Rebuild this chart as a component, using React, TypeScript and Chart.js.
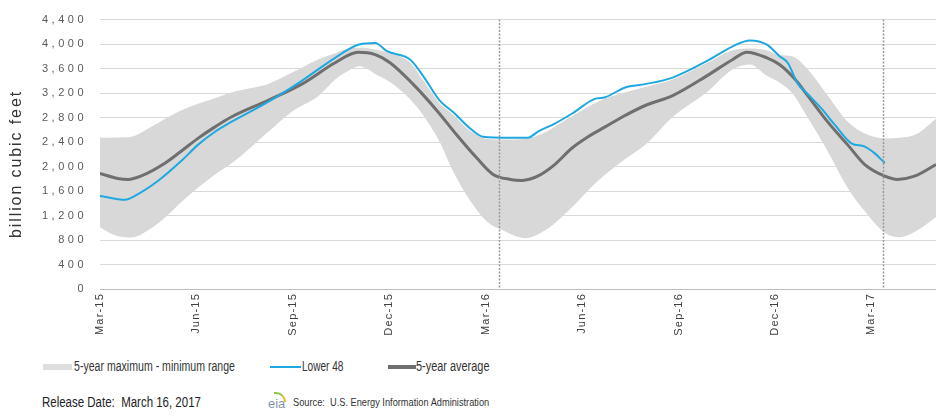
import React, { useEffect, useRef } from "react";
import { Chart, registerables } from "chart.js";

Chart.register(...registerables);

// ---- data (x = weeks since first weekly report, early March 2015) ----
const xTickWeeks = [0, 13, 26, 39, 52, 65, 78, 91, 104];
const xTickLabels = ["Mar-15", "Jun-15", "Sep-15", "Dec-15", "Mar-16", "Jun-16", "Sep-16", "Dec-16", "Mar-17"];
const yTickValues = [0, 400, 800, 1200, 1600, 2000, 2400, 2800, 3200, 3600, 4000, 4400];
const yTitle = "billion cubic feet";
const seriesNames = ["5-year maximum - minimum range", "Lower 48", "5-year average"];

const lower48Weeks = [0, 3.4, 4.7, 7.8, 10.9, 13.2, 15.5, 17.7, 22.6, 27.2, 31.7, 34.8, 37.1, 38.7, 41.8, 43.5, 45.8, 47.6, 49.9, 51.6, 55.3, 57.7, 59.0, 61.3, 63.6, 66.7, 68.1, 70.8, 73.5, 77.2, 81.8, 85.3, 87.6, 89.9, 91.6, 92.7, 94.1, 95.4, 97.3, 99.1, 101.3, 103.1, 104.4, 105.8];
const lower48Values = [1521, 1457, 1521, 1763, 2085, 2354, 2568, 2729, 3051, 3400, 3776, 3990, 4017, 3884, 3749, 3490, 3078, 2890, 2621, 2487, 2471, 2471, 2568, 2701, 2862, 3105, 3132, 3292, 3346, 3453, 3722, 3964, 4060, 3990, 3803, 3695, 3346, 3185, 2943, 2676, 2380, 2326, 2219, 2058];

const avgWeeks = [0, 2.4, 3.8, 5.5, 8.8, 10.9, 13.2, 15.5, 17.7, 22.6, 27.2, 31.7, 34.8, 37.1, 39.1, 42.2, 45.4, 48.1, 50.8, 53.0, 55.3, 56.9, 59.0, 61.3, 63.6, 65.8, 68.1, 70.4, 73.5, 77.2, 81.8, 85.3, 87.2, 89.9, 91.6, 93.7, 95.4, 98.1, 100.8, 103.1, 105.8, 107.5, 109.8, 112.7];
const avgValues = [1887, 1806, 1790, 1843, 2058, 2246, 2460, 2648, 2809, 3078, 3346, 3695, 3867, 3829, 3695, 3346, 2917, 2515, 2138, 1871, 1790, 1774, 1843, 2032, 2299, 2487, 2648, 2809, 2997, 3159, 3481, 3749, 3867, 3776, 3668, 3426, 3159, 2729, 2354, 2032, 1843, 1790, 1843, 2032];

const bandWeeks = [0, 2.0, 4.2, 6.5, 8.8, 10.9, 13.2, 15.5, 17.7, 20.2, 22.6, 25.9, 29.4, 31.7, 33.0, 35.0, 36.4, 37.1, 39.1, 41.8, 43.5, 45.8, 47.6, 49.9, 52.2, 54.3, 57.3, 60.0, 63.6, 67.1, 70.4, 73.5, 77.2, 81.8, 85.3, 87.6, 89.9, 91.6, 93.3, 95.4, 98.1, 100.8, 103.1, 105.8, 107.8, 110.1, 112.7];
const bandMax = [2470, 2475, 2487, 2620, 2780, 2915, 3025, 3115, 3210, 3280, 3346, 3534, 3750, 3850, 3910, 3940, 3930, 3910, 3850, 3700, 3420, 3030, 2850, 2580, 2450, 2440, 2450, 2560, 2820, 3060, 3200, 3300, 3420, 3690, 3900, 3930, 3900, 3820, 3800, 3590, 3160, 2730, 2540, 2460, 2470, 2530, 2780];
const bandMin = [1010, 877, 840, 958, 1172, 1414, 1655, 1871, 2050, 2300, 2560, 2900, 3150, 3420, 3530, 3640, 3570, 3510, 3380, 3100, 2850, 2402, 1924, 1441, 1100, 958, 830, 958, 1333, 1763, 2085, 2354, 2809, 3212, 3588, 3668, 3481, 3373, 3200, 2800, 2250, 1650, 1270, 920, 845, 950, 1170];

const markerWeeks = [53.8, 105.5];
const xMax = 112.7;

const SANS = '"Liberation Sans", Arial, sans-serif';

const BLUE = "#1fa8e0";
const AVG = "#6f6f6f";
const BAND = "#d8d8d8";

const pts = (xs: number[], ys: number[]) => xs.map((x, i) => ({ x, y: ys[i] }));

export default function App() {
  const ref = useRef<HTMLCanvasElement>(null);

  useEffect(() => {
    const canvas = ref.current;
    if (!canvas) return;

    const patch = (scale: any, spacing: string) => {
      if (!scale || scale.__spaced) return;
      const orig = scale.drawLabels.bind(scale);
      scale.drawLabels = (area: any) => {
        const ctx = scale.ctx;
        ctx.save();
        ctx.letterSpacing = spacing;
        orig(area);
        ctx.restore();
      };
      scale.__spaced = true;
    };

    const extras = {
      id: "extras",
      beforeDraw(chart: any) {
        patch(chart.scales.y, "3.5px");
        patch(chart.scales.x, "1.2px");
      },
      afterDatasetsDraw(chart: any) {
        const { ctx, chartArea, scales } = chart;
        ctx.save();
        ctx.strokeStyle = "#9a9a9a";
        ctx.lineWidth = 1.5;
        ctx.setLineDash([2, 1.5]);
        markerWeeks.forEach((w) => {
          const x = Math.round(scales.x.getPixelForValue(w)) + 0.5;
          ctx.beginPath();
          ctx.moveTo(x, chartArea.top);
          ctx.lineTo(x, chartArea.bottom);
          ctx.stroke();
        });
        ctx.restore();
      },
      afterDraw(chart: any) {
        const ctx = chart.ctx;
        ctx.save();
        ctx.translate(17, 164);
        ctx.rotate(-Math.PI / 2);
        ctx.font = `16px ${SANS}`;
        ctx.letterSpacing = "1.9px";
        ctx.fillStyle = "#333333";
        ctx.textAlign = "center";
        ctx.textBaseline = "middle";
        ctx.fillText(yTitle, 0, 0);
        ctx.restore();
      },
    };

    const chart = new Chart(canvas, {
      type: "line",
      data: {
        datasets: [
          {
            label: seriesNames[1],
            data: pts(lower48Weeks, lower48Values),
            borderColor: BLUE,
            borderWidth: 2,
            pointRadius: 0,
            fill: false,
            cubicInterpolationMode: "monotone",
          },
          {
            label: seriesNames[2],
            data: pts(avgWeeks, avgValues),
            borderColor: AVG,
            borderWidth: 3,
            pointRadius: 0,
            fill: false,
            cubicInterpolationMode: "monotone",
          },
          {
            label: seriesNames[0],
            data: pts(bandWeeks, bandMax),
            borderColor: BAND,
            borderWidth: 0,
            backgroundColor: BAND,
            pointRadius: 0,
            fill: "+1",
            cubicInterpolationMode: "monotone",
          },
          {
            label: seriesNames[0] + " min",
            data: pts(bandWeeks, bandMin),
            borderColor: BAND,
            borderWidth: 0,
            pointRadius: 0,
            fill: false,
            cubicInterpolationMode: "monotone",
          },
        ],
      },
      options: {
        responsive: false,
        animation: false,
        devicePixelRatio: 1,
        layout: { padding: { top: 16, left: 0, right: 0, bottom: 0 } },
        plugins: { legend: { display: false }, tooltip: { enabled: false } },
        scales: {
          x: {
            type: "linear",
            min: 0,
            max: xMax,
            afterBuildTicks: (scale: any) => {
              scale.ticks = xTickWeeks.map((v) => ({ value: v }));
            },
            afterFit: (scale: any) => {
              scale.height = 56;
            },
            ticks: {
              autoSkip: false,
              maxRotation: 90,
              minRotation: 90,
              padding: 4,
              color: "#404040",
              font: { family: SANS, size: 11 },
              callback: (_v: any, i: number) => xTickLabels[i],
            },
            grid: { display: false, drawTicks: false },
            border: { display: true, color: "#bdbdbd", width: 1 },
          },
          y: {
            type: "linear",
            min: 0,
            max: 4400,
            afterBuildTicks: (scale: any) => {
              scale.ticks = yTickValues.map((v) => ({ value: v }));
            },
            afterFit: (scale: any) => {
              scale.width = 100;
            },
            ticks: {
              padding: 13,
              color: "#5a5a5a",
              font: { family: SANS, size: 11 },
              callback: (v: any) => Number(v).toLocaleString("en-US"),
            },
            grid: { color: "#d9d9d9", lineWidth: 1, drawTicks: false },
            border: { display: false },
          },
        },
      },
      plugins: [extras],
    } as any);

    chart.draw();
    return () => chart.destroy();
  }, []);

  const txt = (left: number, top: number, size: number, sx: number, color: string, h = 18) => ({
    position: "absolute" as const,
    left,
    top,
    height: h,
    lineHeight: `${h}px`,
    font: `${size}px ${SANS}`,
    color,
    whiteSpace: "pre" as const,
    transform: `scaleX(${sx})`,
    transformOrigin: "left center",
  });
  const box = (left: number, top: number, width: number, height: number, background: string) => ({
    position: "absolute" as const,
    left,
    top,
    width,
    height,
    background,
  });

  return (
    <div style={{ position: "absolute", left: 0, top: 0, width: 936, height: 416, background: "#fff", overflow: "hidden" }}>
      <canvas ref={ref} width={936} height={345} style={{ position: "absolute", left: 0, top: 0, width: 936, height: 345 }} />
      {/* legend */}
      <div style={box(43, 364, 29, 6, "#dedede")} />
      <div style={txt(74, 358, 14, 0.755, "#333")}>{seriesNames[0]}</div>
      <div style={box(270, 366, 31, 2, BLUE)} />
      <div style={txt(302, 358, 14, 0.72, "#333")}>{seriesNames[1]}</div>
      <div style={box(388, 365, 28, 4, AVG)} />
      <div style={txt(416, 358, 14, 0.78, "#333")}>{seriesNames[2]}</div>
      {/* footer */}
      <div style={txt(42, 394, 14, 0.82, "#222")}>{"Release Date:  March 16, 2017"}</div>
      <div
        style={{
          position: "absolute",
          left: 274,
          top: 392,
          width: 12,
          height: 10,
          borderTop: "2px solid #8cc63f",
          borderRight: "2px solid #f2b01e",
          borderTopRightRadius: 12,
          boxSizing: "border-box",
        }}
      />
      <div style={txt(268, 396, 13, 1, "#8497a8", 16)}>eia</div>
      <div style={txt(293, 396, 11, 0.84, "#333", 16)}>{"Source:  U.S. Energy Information Administration"}</div>
    </div>
  );
}
